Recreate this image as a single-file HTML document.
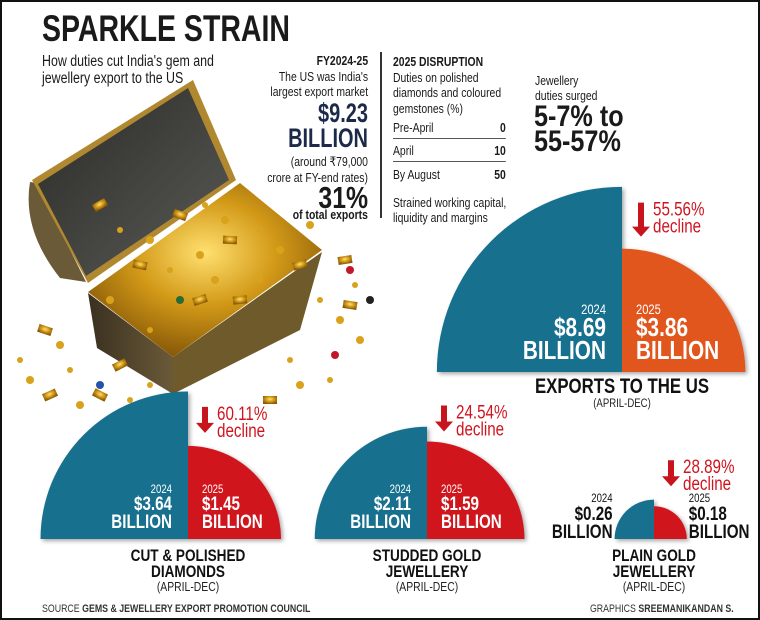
<!DOCTYPE html>
<html><head><meta charset="utf-8"><style>
html,body{margin:0;padding:0;background:#fff}
#root{position:relative;width:760px;height:620px;overflow:hidden;background:#fff;box-sizing:border-box;border:2px solid #111;font-family:"Liberation Sans",sans-serif;color:#1a1a1a}
.t{position:absolute;white-space:nowrap;line-height:1}
.b{font-weight:bold}
.c{transform:scaleX(0.8);transform-origin:left top}
.cr{transform:scaleX(0.8);transform-origin:right top}
</style></head><body>
<div id="root">
<svg id="art" width="760" height="620" style="position:absolute;left:-2px;top:-2px">
  <defs>
    <radialGradient id="gold" cx="50%" cy="40%" r="60%"><stop offset="0" stop-color="#ffe070"/><stop offset="0.5" stop-color="#d39a18"/><stop offset="1" stop-color="#8a5a08"/></radialGradient>
    <linearGradient id="lid" x1="0" y1="0" x2="1" y2="1"><stop offset="0" stop-color="#2a2a28"/><stop offset="1" stop-color="#5a5a55"/></linearGradient>
    <linearGradient id="side" x1="0" y1="0" x2="1" y2="0"><stop offset="0" stop-color="#3a3020"/><stop offset="1" stop-color="#6a5a38"/></linearGradient>
    <filter id="sh" x="-10%" y="-10%" width="130%" height="130%"><feDropShadow dx="2" dy="2" stdDeviation="2" flood-color="#000" flood-opacity="0.35"/></filter>
  </defs>
  <g id="chest">
    <path d="M30,182 Q22,230 60,278 L86,282 L37,183 Z" fill="#6a5a38"/>
    <polygon points="32,180 193,80 236,180 88,283" fill="#b08830"/>
    <polygon points="38,184 188,88 229,180 86,276" fill="url(#lid)"/>
    <polygon points="88,293 173,357 173,394 97,348" fill="url(#side)"/>
    <polygon points="173,357 322,252 300,330 173,394" fill="#6e5a2a"/>
    <polygon points="88,292 240,183 322,250 173,357" fill="url(#gold)"/>
  </g>
  <g id="scatter"></g>
</svg>

<div class="t b" style="left:40px;top:8px;font-size:37px;transform:scaleX(0.77);transform-origin:left top">SPARKLE STRAIN</div>
<div class="t c" style="left:40px;top:51px;font-size:15.5px;line-height:17px">How duties cut India's gem and<br>jewellery export to the US</div>

<div style="position:absolute;left:378px;top:50px;width:2px;height:166px;background:#333"></div>
<div class="t cr" style="right:390px;top:51px;text-align:right;font-size:13px;line-height:15.5px">
  <span class="b">FY2024-25</span><br><span>The US was India's<br>largest export market</span>
</div>
<div class="t b" style="right:390px;top:99px;text-align:right;font-size:27px;line-height:25px;color:#1c2a4a;transform:scaleX(0.74);transform-origin:right top">$9.23<br>BILLION</div>
<div class="t cr" style="right:390px;top:152px;text-align:right;font-size:13px;line-height:15.5px">(around ₹79,000<br>crore at FY-end rates)</div>
<div class="t b cr" style="right:390px;top:180px;text-align:right;font-size:31px">31%</div>
<div class="t b cr" style="right:390px;top:206px;text-align:right;font-size:13px">of total exports</div>

<div class="t c" style="left:391px;top:52px;font-size:13px;line-height:15.5px"><span class="b">2025 DISRUPTION</span><br>Duties on polished<br>diamonds and coloured<br>gemstones (%)</div>
<div class="c" style="position:absolute;left:391px;top:114px;width:141px;font-size:13px">
  <div style="display:flex;justify-content:space-between;height:22px;align-items:center;border-bottom:1px solid #555"><span>Pre-April</span><span class="b">0</span></div>
  <div style="display:flex;justify-content:space-between;height:22px;align-items:center;border-bottom:1px solid #555"><span>April</span><span class="b">10</span></div>
  <div style="display:flex;justify-content:space-between;height:24px;align-items:center"><span>By August</span><span class="b">50</span></div>
</div>
<div class="t c" style="left:391px;top:193px;font-size:13px;line-height:15px">Strained working capital,<br>liquidity and margins</div>

<div class="t c" style="left:533px;top:71px;font-size:13px;line-height:15px">Jewellery<br>duties surged</div>
<div class="t b" style="left:532px;top:102px;font-size:30px;line-height:25px;transform:scaleX(0.84);transform-origin:left top">5-7% to<br>55-57%</div>

<svg id="chart" width="760" height="620" style="position:absolute;left:-2px;top:-2px"></svg>

<div class="t c" style="left:40px;top:602px;font-size:11px;color:#333">SOURCE <b>GEMS &amp; JEWELLERY EXPORT PROMOTION COUNCIL</b></div>
<div class="t cr" style="right:24px;top:602px;font-size:11px;color:#333">GRAPHICS <b>SREEMANIKANDAN S.</b></div>
</div>

<script>
const categories = ["EXPORTS TO THE US", "CUT & POLISHED|DIAMONDS", "STUDDED GOLD|JEWELLERY", "PLAIN GOLD|JEWELLERY"];
const values2024 = [8.69, 3.64, 2.11, 0.26];
const values2025 = [3.86, 1.45, 1.59, 0.18];
const declines = ["55.56%", "60.11%", "24.54%", "28.89%"];

// layout (not data)
const layout = [
  {cx:622, cy:372, k:62.8, col25:"#e0561e", big:true, outside:false, dOff:46},
  {cx:188, cy:539, k:77.3, col25:"#d0141e", big:false, outside:false, dOff:39},
  {cx:427, cy:539, k:77.3, col25:"#d0141e", big:false, outside:false, dOff:36},
  {cx:654, cy:539, k:77.3, col25:"#d0141e", big:false, outside:true, dOff:46}
];
const NS = "http://www.w3.org/2000/svg";
const svg = document.getElementById("chart");
function rScale(v, k){ return k*Math.sqrt(v); }
function mk(tag, attrs, parent){ const e=document.createElementNS(NS,tag); for(const a in attrs) e.setAttribute(a,attrs[a]); (parent||svg).appendChild(e); return e; }
function txt(x,y,s,size,fill,anchor,bold,name,parent){
  const e=mk("text",{x:0,y:0,transform:`translate(${x},${y}) scale(0.8,1)`,"font-size":size,fill:fill,"text-anchor":anchor,"font-weight":bold?"bold":"normal","font-family":"'Liberation Sans',sans-serif"},parent);
  e.textContent=s;
  
  
  return e;
}
categories.forEach((cat,i)=>{
  const L = layout[i];
  const g = mk("g",{filter:"url(#sh)"});
  
  
  const r1 = rScale(values2024[i], L.k), r2 = rScale(values2025[i], L.k);
  const p1 = mk("path",{d:`M${L.cx},${L.cy} L${L.cx-r1},${L.cy} A${r1},${r1} 0 0 1 ${L.cx},${L.cy-r1} Z`, fill:"#156f8e"}, g);
  
  
  const p2 = mk("path",{d:`M${L.cx},${L.cy} L${L.cx},${L.cy-r2} A${r2},${r2} 0 0 1 ${L.cx+r2},${L.cy} Z`, fill:L.col25}, g);
  
  
  const b = L.big;
  const yr = b?14:12, vs = b?26:19, bs = b?26:19;
  const by = L.cy - (b?13:11), vy = by-(b?23:18), yy = vy-(b?22:17);
  if(!L.outside){
    txt(L.cx-16,yy,"2024",yr,"#fff","end",false,"label-2024-year");
    txt(L.cx-16,vy,"$"+values2024[i].toFixed(2),vs,"#fff","end",true,"label-2024-value");
    txt(L.cx-16,by,"BILLION",bs,"#fff","end",true,"label-2024-unit");
    txt(L.cx+14,yy,"2025",yr,"#fff","start",false,"label-2025-year");
    txt(L.cx+14,vy,"$"+values2025[i].toFixed(2),vs,"#fff","start",true,"label-2025-value");
    txt(L.cx+14,by,"BILLION",bs,"#fff","start",true,"label-2025-unit");
  } else {
    const lx = L.cx-r1-2, rx = L.cx+r2+2;
    txt(lx,L.cy-37,"2024",12,"#111","end",false,"label-2024-year");
    txt(lx,L.cy-19,"$"+values2024[i].toFixed(2),19,"#111","end",true,"label-2024-value");
    txt(lx,L.cy-1,"BILLION",19,"#111","end",true,"label-2024-unit");
    txt(rx,L.cy-37,"2025",12,"#111","start",false,"label-2025-year");
    txt(rx,L.cy-19,"$"+values2025[i].toFixed(2),19,"#111","start",true,"label-2025-value");
    txt(rx,L.cy-1,"BILLION",19,"#111","start",true,"label-2025-unit");
  }
  // decline marker above the 2025 quarter
  const topY = L.cy - r2;
  const ax = L.cx + (b?19:17), ay1 = topY - L.dOff, ay2 = ay1 + (b?34:26);
  const ar = mk("path",{d:`M${ax-3},${ay1} h6 v${(ay2-ay1)-10} h6 l-9,10 l-9,-10 h6 Z`, fill:"#c8141c"});
  
  
  txt(ax+12,ay1+13,declines[i],19,"#d0141e","start",false,"decline-percent");
  txt(ax+12,ay1+30,"decline",19,"#d0141e","start",false,"decline-word");
  // category label
  const lines = cat.split("|");
  let y0 = L.cy + (b?21:22);
  lines.forEach((ln,j)=>txt(L.cx,y0+j*16,ln,b?21:17,"#111","middle",true,"category-label"));
  txt(L.cx,y0+lines.length*16-2,"(APRIL-DEC)",b?12:13,"#222","middle",false,"period-label");
});

// decorative gold scatter (deterministic)
const sc = document.getElementById("scatter");
const golds = [[100,205],[120,230],[150,240],[180,215],[205,205],[225,220],[140,265],[170,270],[200,255],[230,240],[260,230],[110,300],[240,300],[260,280],[280,250],[300,265],[20,360],[30,380],[50,395],[70,370],[80,405],[100,395],[130,400],[60,345],[45,330],[320,300],[340,320],[350,305],[330,380],[300,385],[270,400],[290,360],[360,340],[345,260],[355,285],[310,225],[200,300],[150,330],[215,280],[120,365],[150,385]];
golds.forEach((p,i)=>{
  const big = i%3===0;
  const e = mk(big?"rect":"circle", big?{x:p[0]-7,y:p[1]-4,width:14,height:8,fill:"url(#gold)",transform:`rotate(${(i*37)%60-30} ${p[0]} ${p[1]})`}:{cx:p[0],cy:p[1],r:2+(i%3),fill:"#d9a21c"}, sc);
  
  
});
[[350,270,"#c0182a"],[370,300,"#222"],[335,355,"#c0182a"],[100,385,"#2255aa"],[180,300,"#2a6a3a"]].forEach(p=>{
  const e = mk("circle",{cx:p[0],cy:p[1],r:4,fill:p[2]}, sc);
  
  
});
</script>
</body></html>
